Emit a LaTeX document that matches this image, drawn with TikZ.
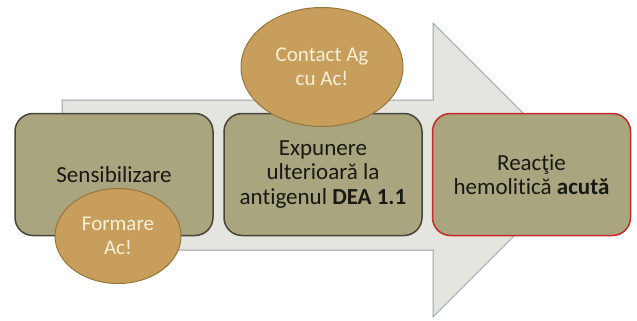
\documentclass[tikz,border=0pt]{standalone}
\usepackage{fontspec}
\setmainfont{Carlito}[Ligatures=NoCommon]
\usetikzlibrary{shapes.geometric}
\definecolor{boxfill}{RGB}{168,165,127}
\definecolor{boxline}{RGB}{70,70,56}
\definecolor{boxtext}{RGB}{24,24,20}
\definecolor{redline}{RGB}{200,40,40}
\definecolor{bubblefill}{RGB}{200,158,92}
\definecolor{bubbleline}{RGB}{150,118,60}
\definecolor{bubbletext}{RGB}{250,240,215}
\definecolor{arrowfill}{RGB}{229,229,223}
\definecolor{arrowline}{RGB}{150,165,170}
\begin{document}
\begin{tikzpicture}[x=1pt, y=-1pt,
	stepbox/.style={draw=boxline, line width=1.5pt, fill=boxfill, rounded corners=18pt, minimum width=198pt, minimum height=122pt, align=center, text=boxtext, font=\fontsize{23}{24.5}\selectfont},
	bubble/.style={ellipse, draw=bubbleline, line width=1pt, fill=bubblefill, align=center, text=bubbletext, font=\fontsize{21}{24.5}\selectfont, inner sep=0pt}]
	\useasboundingbox (0,0) rectangle (637,321);
	\draw[arrowline, line width=1pt, fill=arrowfill] (62,100) -- (433,100) -- (433,23) -- (580,170) -- (433,317) -- (433,250) -- (62,250) -- cycle;
	\node[stepbox] (sens) at (114,174.5) {Sensibilizare};
	\node[stepbox] (expun) at (323,174.5) {Expunere\\ulterioară la\\antigenul \textbf{DEA 1.1}};
	\node[stepbox, draw=redline] (reactie) at (531.5,174.5) {Reacţie\\hemolitică \textbf{acută}};
	\node[bubble, minimum width=126pt, minimum height=95pt] (formare) at (118,236) {Formare\\Ac!};
	\node[bubble, minimum width=162pt, minimum height=119pt] (contact) at (322,67) {Contact Ag\\cu Ac!};
\end{tikzpicture}
\end{document}
